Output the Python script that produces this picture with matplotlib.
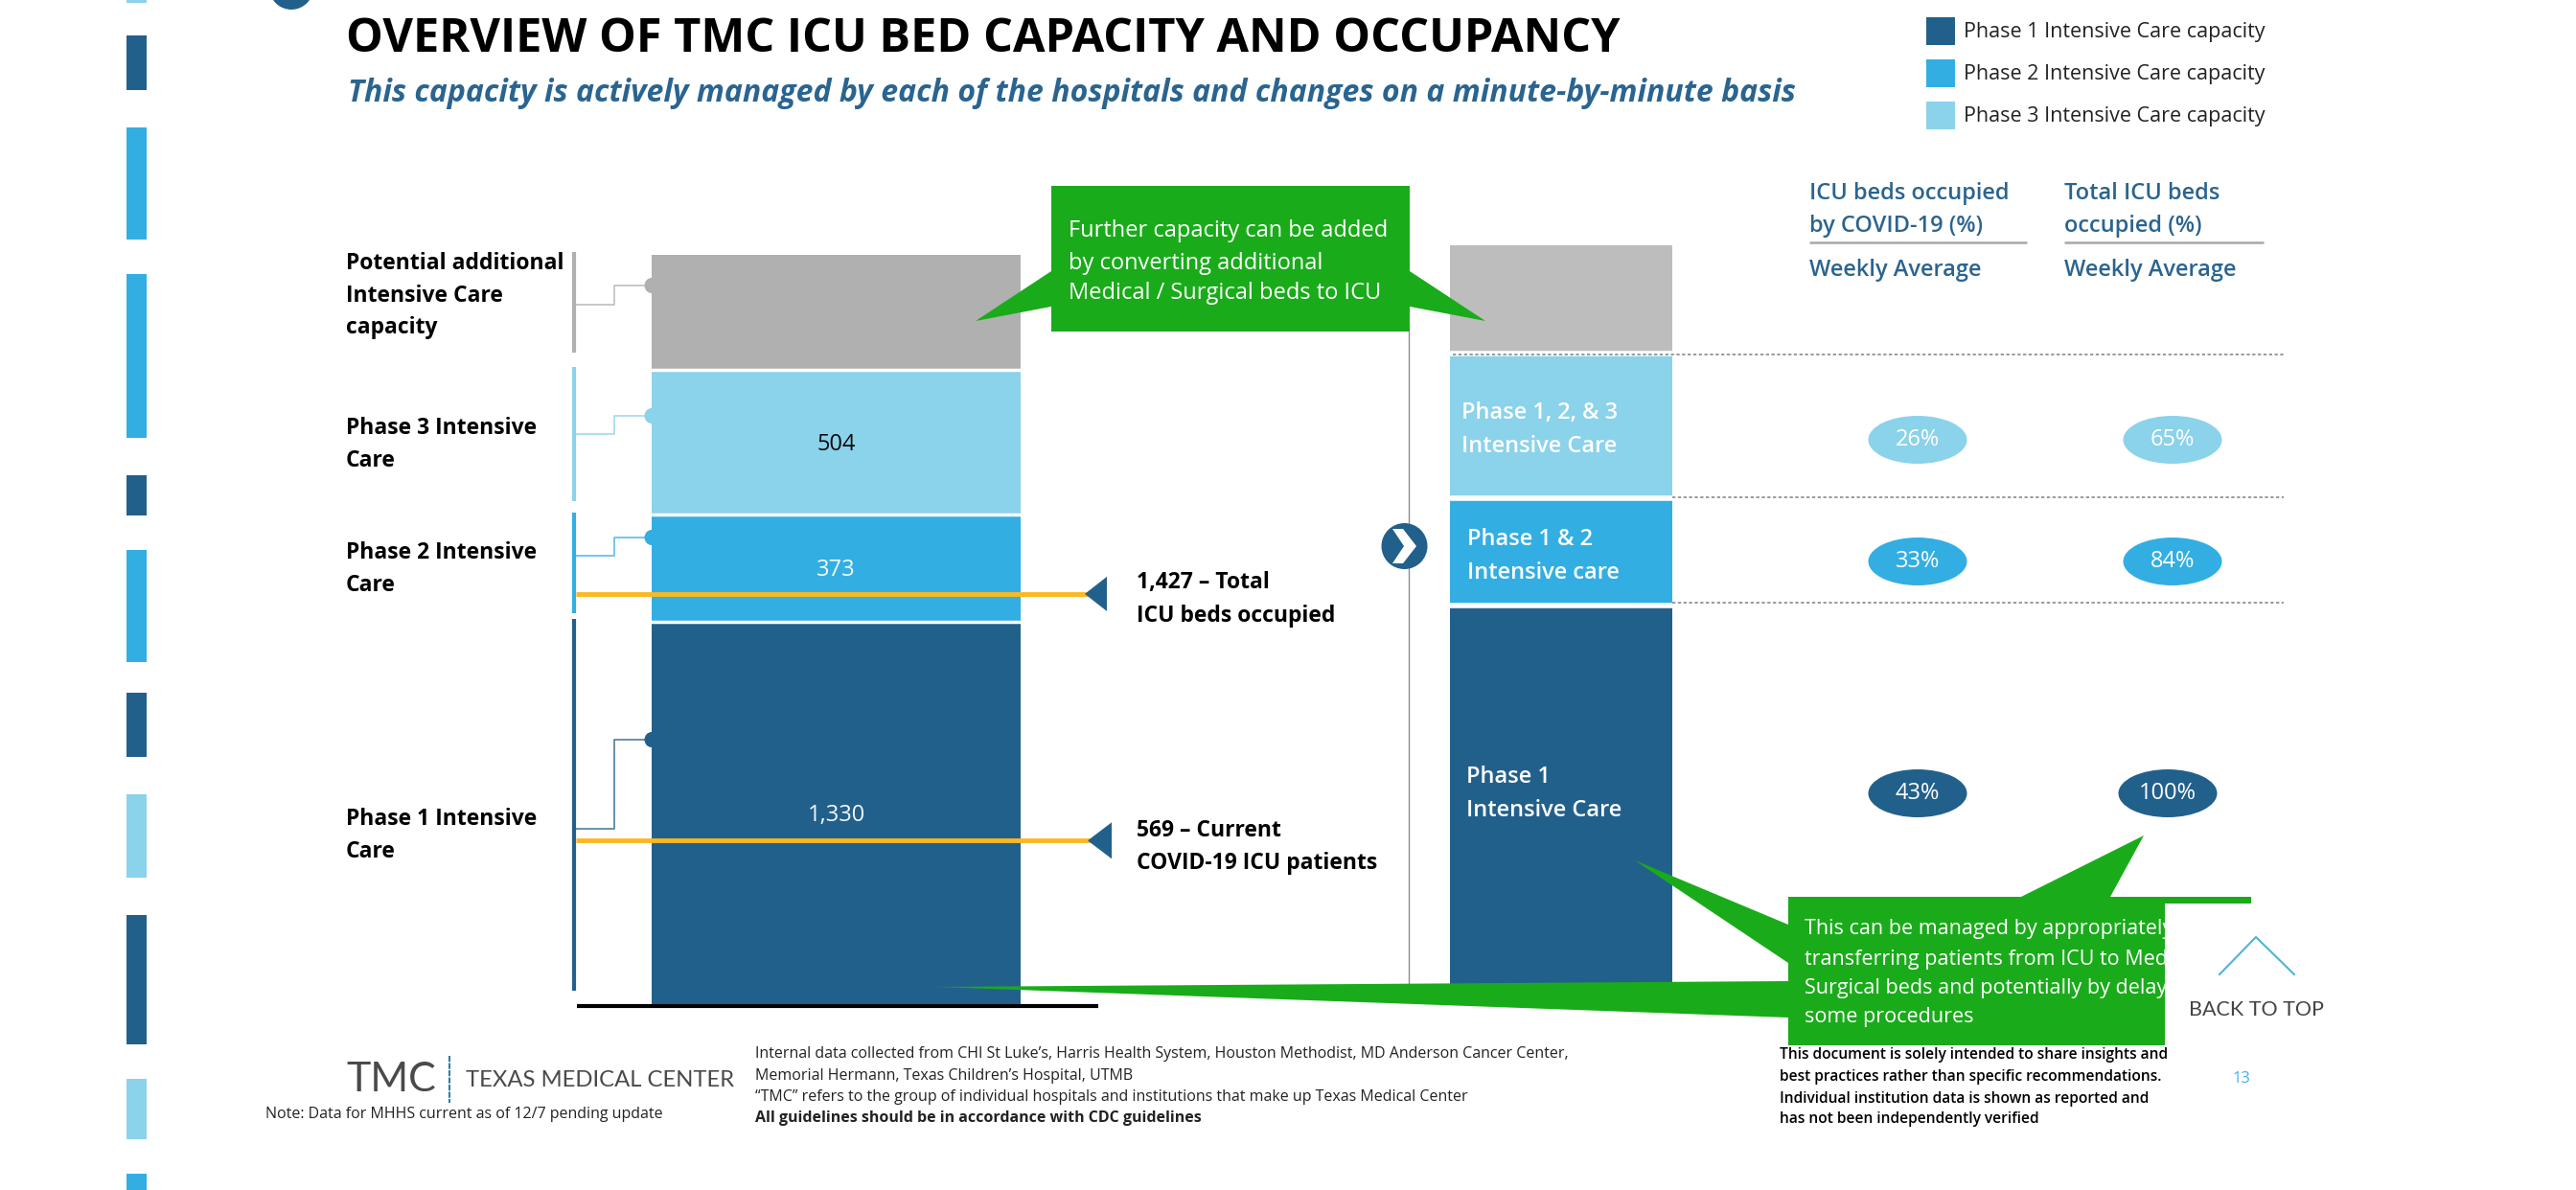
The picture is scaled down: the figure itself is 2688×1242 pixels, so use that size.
import matplotlib
matplotlib.use('Agg')
import matplotlib.pyplot as plt
from matplotlib.patches import Ellipse, Polygon, Rectangle

W, H = 2688, 1242

plt.rcParams['font.family'] = ['Open Sans', 'DejaVu Sans']

DARK = '#22608c'
MID = '#33aee3'
LIGHT = '#8bd2eb'
GREY = '#b0b0b0'
GREY2 = '#bdbdbd'
GREEN = '#1aab1a'
YELLOW = '#fbb81f'
HEAD = '#2a6490'

# beds per phase
phases = ['Phase 1', 'Phase 2', 'Phase 3', 'Potential']
beds = [1330, 373, 504, 400]
beds_right = [1330, 373, 504, 375]
bar_colors = [DARK, MID, LIGHT, GREY]
bar_colors_right = [DARK, MID, LIGHT, GREY2]
bed_labels = ['1,330', '373', '504', '']

occupied_total = 1427
covid_current = 569

covid_pct = [43, 33, 26]
total_pct = [100, 84, 65]
pct_colors = [DARK, MID, LIGHT]

legend_labels = ['Phase 1 Intensive Care capacity', 'Phase 2 Intensive Care capacity',
                 'Phase 3 Intensive Care capacity']

fig = plt.figure(figsize=(W / 100, H / 100), dpi=100, facecolor='white')

# full slide overlay in pixel coordinates, used for layout things
ax = fig.add_axes([0, 0, 1, 1], zorder=1)
ax.set_xlim(0, W)
ax.set_ylim(H, 0)
ax.axis('off')
ax.patch.set_alpha(0)


def bar_axes(x0, x1, base, vmax, px_per_bed=0.30):
    top = base - vmax * px_per_bed
    a = fig.add_axes([x0 / W, 1 - base / H, (x1 - x0) / W, (base - top) / H], zorder=0)
    a.set_xlim(0, 1)
    a.set_ylim(0, vmax)
    a.axis('off')
    return a


def stacked(a, values, colors, gap):
    bottom = 0
    for v, c in zip(values, colors):
        a.bar(0.5, v, width=1, bottom=bottom, color=c, linewidth=0)
        bottom += v
    running = 0
    for v in values[:-1]:
        running += v
        a.axhline(running, color='white', lw=gap)


def txt(x, y, s, size=15, color='black', weight='normal', ha='left', style='normal', z=6, **kw):
    # +3: centre of the glyphs sits a little under the centre of the text box
    return ax.text(x, y + 3, s, fontsize=size, color=color, fontweight=weight, ha=ha, va='center',
                   style=style, zorder=z, **kw)


# left bar, true scale
left = bar_axes(680, 1065, 1048, sum(beds))
stacked(left, beds, bar_colors, 2.5)
running = 0
for v, lab, c in zip(beds, bed_labels, ['white', 'white', 'black', 'black']):
    if lab:
        pos = running + v * 0.5
        left.text(0.5, pos - 8, lab, color=c, fontsize=17, ha='center', va='center', alpha=0.95)
    running += v

# right bar
right = bar_axes(1513, 1745, 1031, sum(beds_right))
stacked(right, beds_right, bar_colors_right, 4)

# side strips
strips = [(0, 3, LIGHT), (37, 94, DARK), (133, 250, MID), (286, 457, MID), (496, 538, DARK),
          (574, 691, MID), (723, 790, DARK), (829, 916, LIGHT), (955, 1090, DARK),
          (1126, 1189, LIGHT), (1225, 1242, MID)]
for y0, y1, c in strips:
    ax.add_patch(Rectangle((132, y0), 21, y1 - y0, color=c, lw=0))
ax.add_patch(Ellipse((304, -13), 46, 46, color=DARK, lw=0))

# title block
txt(361, 38, 'OVERVIEW OF TMC ICU BED CAPACITY AND OCCUPANCY', size=35, weight='bold')
txt(363, 94, 'This capacity is actively managed by each of the hospitals and changes on a minute-by-minute basis',
    size=23, color=HEAD, weight='bold', style='italic')

# legend
for y, c, lab in zip([18, 62, 106], [DARK, MID, LIGHT], legend_labels):
    ax.add_patch(Rectangle((2010, y), 30, 29, color=c, lw=0))
    txt(2049, y + 13, lab, size=15.5, color='#222222')

# brackets on the left of the bar
brackets = [(263, 368, GREY, 318, 298), (383, 523, LIGHT, 453, 434),
            (535, 640, MID, 580, 561), (646, 1034, DARK, 865, 772)]
for y0, y1, c, ya, yb in brackets:
    ax.plot([599, 599], [y0, y1], color=c, lw=3, solid_capstyle='butt')
    ax.plot([599, 641, 641, 680], [ya, ya, yb, yb], color=c, lw=1.3, alpha=0.75)
    ax.add_patch(Ellipse((680, yb), 15, 16, color=c, lw=0, zorder=3))

for y, s in [(272, 'Potential additional'), (306, 'Intensive Care'), (339, 'capacity'),
             (444, 'Phase 3 Intensive'), (478, 'Care'),
             (574, 'Phase 2 Intensive'), (608, 'Care'),
             (852, 'Phase 1 Intensive'), (886, 'Care')]:
    txt(361, y, s, size=16.5, weight='bold')

# occupied markers read against the left bar's scale
left_y = lambda beds_val: 1048 - beds_val * 0.30
for val, tip, base, half in [(occupied_total, 1132, 1155, 18), (covid_current, 1135, 1160, 19)]:
    y = left_y(val)
    ax.plot([601, tip + 4], [y, y], color=YELLOW, lw=3.5, solid_capstyle='butt', zorder=4)
    ax.add_patch(Polygon([(tip, y), (base, y - half), (base, y + half)], color=DARK, lw=0, zorder=5))
ax.plot([602, 1146], [1049.5, 1049.5], color='black', lw=3, solid_capstyle='butt', zorder=2)

for y, s in [(605, '1,427 \u2013 Total'), (640, 'ICU beds occupied'),
             (864, '569 \u2013 Current'), (898, 'COVID-19 ICU patients')]:
    txt(1186, y, s, size=16.5, weight='bold')

# divider and round arrow
ax.plot([1470, 1470], [346, 1030], color='#8c8c8c', lw=1, zorder=1)
ax.add_patch(Ellipse((1465.5, 570), 48, 48, color=DARK, lw=0, zorder=3))
ax.add_patch(Polygon([(1453, 552), (1464, 552), (1478, 570), (1464, 588), (1453, 588), (1465, 570)],
                     color='white', lw=0, zorder=4))

# top callout
ax.add_patch(Polygon([(1097, 194), (1471, 194), (1471, 283), (1550, 335), (1471, 320), (1471, 346),
                      (1097, 346), (1097, 320), (1018, 335), (1097, 283)], color=GREEN, lw=0, zorder=4))
for y, s in [(238, 'Further capacity can be added'), (272, 'by converting additional'),
             (303, 'Medical / Surgical beds to ICU')]:
    txt(1115, y, s, size=17, color='white')

# text on the right bar
for y, s, x in [(428, 'Phase 1, 2, & 3', 1525), (463, 'Intensive Care', 1525),
                (560, 'Phase 1 & 2', 1531), (595, 'Intensive care', 1531),
                (808, 'Phase 1', 1530), (843, 'Intensive Care', 1530)]:
    txt(x, y, s, size=17, color='white', weight='semibold')

# column headers
for x, x1, l1, l2 in [(1888, 2115, 'ICU beds occupied', 'by COVID-19 (%)'),
                      (2154, 2362, 'Total ICU beds', 'occupied (%)')]:
    txt(x, 199, l1, size=17, color=HEAD, weight='semibold')
    txt(x, 233, l2, size=17, color=HEAD, weight='semibold')
    ax.plot([x, x1], [253, 253], color='#a8a8a8', lw=1.8, solid_capstyle='butt')
    txt(x, 279, 'Weekly Average', size=17, color=HEAD, weight='semibold')

# dotted row separators
for x0, x1, y in [(1516, 2385, 370), (1745, 2383, 519), (1745, 2383, 629)]:
    ax.plot([x0, x1], [y, y], color='#8a8a8a', lw=1.2, ls=(0, (2, 1.5)), zorder=3)

# percent pills
rows_y = [828, 586, 459]
for y, a_pct, b_pct, c in zip(rows_y, covid_pct, total_pct, pct_colors):
    x2 = 2262 if b_pct == 100 else 2267
    for x, p in [(2001, a_pct), (x2, b_pct)]:
        ax.add_patch(Ellipse((x, y), 103, 50, color=c, lw=0, zorder=3))
        txt(x, y - 3, f'{p}%', size=17, color='white', ha='center')

# bottom callout, cut off by the white panel on its right like the source slide
ax.add_patch(Polygon([(1866, 936), (2109, 936), (2237, 872), (2202, 936), (2349, 936), (2349, 1091),
                      (1866, 1091), (1866, 1062), (977, 1030), (1866, 1024), (1866, 1005), (1706, 898),
                      (1866, 965)], color=GREEN, lw=0, zorder=4))
for y, s in [(966, 'This can be managed by appropriately'),
             (998, 'transferring patients from ICU to Medical /'),
             (1028, 'Surgical beds and potentially by delaying'),
             (1058, 'some procedures')]:
    txt(1883, y, s, size=15.5, color='white')
ax.add_patch(Rectangle((2259, 943), 429, 299, color='white', lw=0, zorder=7))

# back to top
ax.plot([2316, 2354, 2394], [1017, 978, 1017], color='#4fb3dc', lw=1.5, zorder=8)
txt(2354, 1051, 'BACK TO TOP', size=15.5, color='#444444', ha='center', z=8, family='Lato')
txt(2339, 1123, '13', size=12, color='#45b1e3', ha='center', z=8)

# logo
txt(361, 1124, 'TMC', size=31, color='#4a4a4a', family='Lato')
ax.plot([469, 469], [1102, 1151], color='#2f7fa8', lw=1.5, ls=(0, (3, 0.6)))
txt(486, 1124, 'TEXAS MEDICAL CENTER', size=17.2, color='#4a4a4a', family='Lato')
txt(277, 1160, 'Note: Data for MHHS current as of 12/7 pending update', size=11.5, color='#222222')

# footnotes
for y, s, w in [(1097, "Internal data collected from CHI St Luke\u2019s, Harris Health System, Houston Methodist, MD Anderson Cancer Center,", 'normal'),
                (1120, 'Memorial Hermann, Texas Children\u2019s Hospital, UTMB', 'normal'),
                (1142, '\u201cTMC\u201d refers to the group of individual hospitals and institutions that make up Texas Medical Center', 'normal'),
                (1164, 'All guidelines should be in accordance with CDC guidelines', 'bold')]:
    txt(788, y, s, size=11.5, color='#222222', weight=w)
for y, s in [(1098, 'This document is solely intended to share insights and'),
             (1121, 'best practices rather than specific recommendations.'),
             (1144, 'Individual institution data is shown as reported and'),
             (1165, 'has not been independently verified')]:
    txt(1857, y, s, size=11.2, weight='semibold', z=8)

fig.savefig('out.png', dpi=100, facecolor='white')
